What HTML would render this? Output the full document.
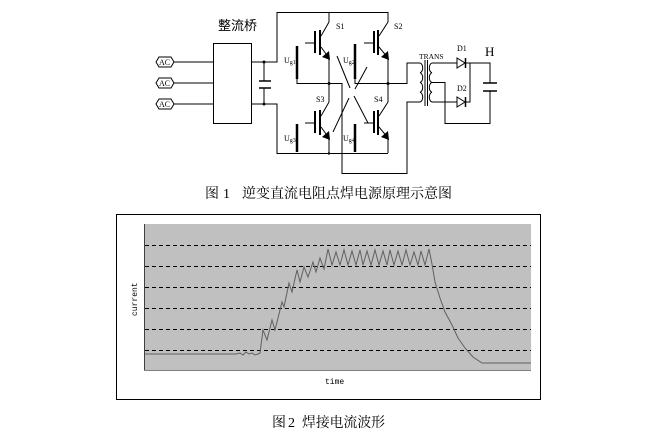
<!DOCTYPE html>
<html><head><meta charset="utf-8"><style>
html,body{margin:0;padding:0;background:#fff;}
svg{display:block;}
</style></head><body>
<svg width="653" height="441" viewBox="0 0 653 441" xmlns="http://www.w3.org/2000/svg">
<rect width="653" height="441" fill="#fff"/>
<g stroke="#000" stroke-width="1" fill="none">
<!-- AC inputs -->
<polygon points="156,62 159,57 171,57 174,62 171,67 159,67"/>
<polygon points="156,83 159,78 171,78 174,83 171,88 159,88"/>
<polygon points="156,104 159,99 171,99 174,104 171,109 159,109"/>
<line x1="174" y1="62" x2="213" y2="62"/>
<line x1="174" y1="83" x2="213" y2="83"/>
<line x1="174" y1="104" x2="213" y2="104"/>
<rect x="213.5" y="43.5" width="38" height="80"/>
<!-- DC link -->
<polyline points="251,62 277,62 277,12.5 388,12.5 388,22"/>
<polyline points="251,104 277,104 277,153.5 388,153.5"/>
<line x1="264" y1="62" x2="264" y2="81"/>
<line x1="264" y1="88" x2="264" y2="104"/>
<line x1="259" y1="81" x2="271" y2="81" stroke-width="1.5"/>
<line x1="259" y1="88" x2="271" y2="88" stroke-width="1.5"/>
<!-- Left leg -->
<line x1="329" y1="12" x2="329" y2="22"/>
<line x1="329" y1="22" x2="321" y2="36"/>
<line x1="321" y1="47" x2="329" y2="58"/>
<line x1="329" y1="58" x2="329" y2="102"/>
<line x1="329" y1="102" x2="321" y2="116"/>
<line x1="321" y1="127" x2="329" y2="138"/>
<line x1="329" y1="138" x2="329" y2="153"/>
<line x1="305" y1="43" x2="315" y2="43"/>
<line x1="305" y1="123" x2="315" y2="123"/>
<line x1="315" y1="31" x2="315" y2="53" stroke-width="2"/>
<line x1="320" y1="30" x2="320" y2="55" stroke-width="2"/>
<line x1="315" y1="111" x2="315" y2="133" stroke-width="2"/>
<line x1="320" y1="110" x2="320" y2="135" stroke-width="2"/>
<!-- Right leg -->
<line x1="388" y1="22" x2="379" y2="36"/>
<line x1="379" y1="47" x2="388" y2="58"/>
<line x1="388" y1="58" x2="388" y2="102"/>
<line x1="388" y1="102" x2="379" y2="116"/>
<line x1="379" y1="127" x2="388" y2="138"/>
<line x1="388" y1="138" x2="388" y2="153"/>
<line x1="364" y1="43" x2="374" y2="43"/>
<line x1="364" y1="123" x2="374" y2="123"/>
<line x1="374" y1="31" x2="374" y2="53" stroke-width="2"/>
<line x1="378" y1="30" x2="378" y2="55" stroke-width="2"/>
<line x1="374" y1="111" x2="374" y2="133" stroke-width="2"/>
<line x1="378" y1="110" x2="378" y2="135" stroke-width="2"/>
<!-- Ug bars -->
<line x1="297" y1="46" x2="297" y2="79" stroke-width="2.5"/>
<line x1="297" y1="124" x2="297" y2="152" stroke-width="2.5"/>
<line x1="355" y1="44" x2="355" y2="79" stroke-width="2.5"/>
<line x1="355" y1="124" x2="355" y2="152" stroke-width="2.5"/>
<!-- mid horizontals -->
<polyline points="297,79 297,83.5 342,83.5 342,173.5 407,173.5 407,102 420,102"/>
<polyline points="355,79 355,83.5 407,83.5 407,63 420,63"/>
<!-- crossing lines -->
<line x1="337" y1="56" x2="350" y2="88"/>
<line x1="354" y1="96" x2="368" y2="123"/>
<line x1="367" y1="67" x2="355" y2="89"/>
<line x1="349" y1="98" x2="333" y2="132"/>
<!-- Transformer -->
<path d="M420 63 a3 4.9 0 0 1 0 9.75 a3 4.9 0 0 1 0 9.75 a3 4.9 0 0 1 0 9.75 a3 4.9 0 0 1 0 9.75"/>
<path d="M432 63 a3 4.9 0 0 0 0 9.75 a3 4.9 0 0 0 0 9.75 a3 4.9 0 0 0 0 9.75 a3 4.9 0 0 0 0 9.75"/>
<line x1="425" y1="60" x2="425" y2="106"/>
<line x1="427.5" y1="60" x2="427.5" y2="106"/>
<!-- secondary -->
<line x1="432" y1="63" x2="457" y2="63"/>
<polygon points="457,58 457,68 465,63"/>
<line x1="465.5" y1="58" x2="465.5" y2="68" stroke-width="1.5"/>
<polyline points="465,63 490,63 490,83"/>
<line x1="432" y1="102" x2="457" y2="102"/>
<polygon points="457,97 457,107 465,102"/>
<line x1="465.5" y1="97" x2="465.5" y2="107" stroke-width="1.5"/>
<polyline points="465,102 470,102 470,63"/>
<line x1="483" y1="83" x2="497" y2="83" stroke-width="1.5"/>
<line x1="483" y1="91" x2="497" y2="91" stroke-width="1.5"/>
<polyline points="490,91 490,123.5 445,123.5 445,82.5 432,82.5"/>
</g>
<!-- arrowheads & dots -->
<g fill="#000">
<polygon points="330,60 322,57 329,51"/>
<polygon points="330,140 322,137 329,131"/>
<polygon points="389,60 381,57 388,51"/>
<polygon points="389,140 381,137 388,131"/>
<circle cx="264" cy="62" r="1.5"/>
<circle cx="264" cy="104" r="1.5"/>
<circle cx="329" cy="83.5" r="1.5"/>
<circle cx="388" cy="83.5" r="1.5"/>
<circle cx="329" cy="153.5" r="1.2"/>
</g>
<!-- circuit labels -->
<g font-family="Liberation Serif, serif" fill="#000">
<text x="159" y="65" font-size="8">AC</text>
<text x="159" y="86" font-size="8">AC</text>
<text x="159" y="107" font-size="8">AC</text>
<text x="336" y="29" font-size="8">S1</text>
<text x="394" y="29" font-size="8">S2</text>
<text x="316" y="102" font-size="8">S3</text>
<text x="374" y="102" font-size="8">S4</text>
<text x="284" y="63" font-size="8">U<tspan font-size="6" dy="1">g1</tspan></text>
<text x="343" y="63" font-size="8">U<tspan font-size="6" dy="1">g2</tspan></text>
<text x="284" y="141" font-size="8">U<tspan font-size="6" dy="1">g3</tspan></text>
<text x="343" y="141" font-size="8">U<tspan font-size="6" dy="1">g4</tspan></text>
<text x="419" y="59" font-size="7.5">TRANS</text>
<text x="457" y="51" font-size="8">D1</text>
<text x="457" y="91" font-size="8">D2</text>
<text x="485" y="56" font-size="13">H</text>
</g>
<text x="218" y="30" font-size="13" font-family="Liberation Sans, 'Noto Sans CJK SC', sans-serif">整流桥</text>
<g font-family="Liberation Serif, 'Noto Serif CJK SC', serif" font-size="14" fill="#000">
<text x="205" y="198">图</text>
<text x="223" y="198">1</text>
<text x="242" y="198" textLength="210" lengthAdjust="spacingAndGlyphs">逆变直流电阻点焊电源原理示意图</text>
<text x="272" y="427">图</text>
<text x="288" y="427">2</text>
<text x="302" y="427" textLength="83" lengthAdjust="spacingAndGlyphs">焊接电流波形</text>
</g>
<!-- Chart -->
<rect x="116.5" y="214.5" width="424" height="185" fill="#fff" stroke="#000" stroke-width="1"/>
<rect x="144" y="224" width="387" height="147" fill="#c0c0c0"/>
<line x1="144.5" y1="224" x2="144.5" y2="371" stroke="#404040" stroke-width="1"/>
<line x1="144" y1="370.5" x2="531" y2="370.5" stroke="#808080" stroke-width="1"/>
<g stroke="#000" stroke-width="1" stroke-dasharray="4,3">
<line x1="145" y1="245.5" x2="531" y2="245.5"/>
<line x1="145" y1="266.5" x2="531" y2="266.5"/>
<line x1="145" y1="287.5" x2="531" y2="287.5"/>
<line x1="145" y1="308.5" x2="531" y2="308.5"/>
<line x1="145" y1="329.5" x2="531" y2="329.5"/>
<line x1="145" y1="350.5" x2="531" y2="350.5"/>
</g>
<polyline fill="none" stroke="#606060" stroke-width="1" points="145,354 236,354 240,353 243,355 246,352 249,354 252,353 255,355 258,354 260,353 263,330 267,340 272,320 275,330 282,302 284,307 289,283 292,292 297,270 300,282 304,267 308,277 313,262 316,272 320,258 324,269 328,249 332,265 336,252 340,265 344,250 348,265 352,251 356,265 360,250 363,265 367,251 371,265 375,250 379,265 383,251 387,265 390,250 394,265 398,251 402,265 406,250 410,265 414,252 418,265 421,251 425,265 429,249 432,264 435,282 440,298 445,312 452,325 458,338 465,348 473,357 482,363 531,363"/>
<text x="0" y="0" font-family="Liberation Mono, monospace" font-size="8" fill="#000" transform="translate(137,316) rotate(-90)">current</text>
<text x="325" y="384" font-family="Liberation Mono, monospace" font-size="8" fill="#000">time</text>
</svg>
</body></html>
